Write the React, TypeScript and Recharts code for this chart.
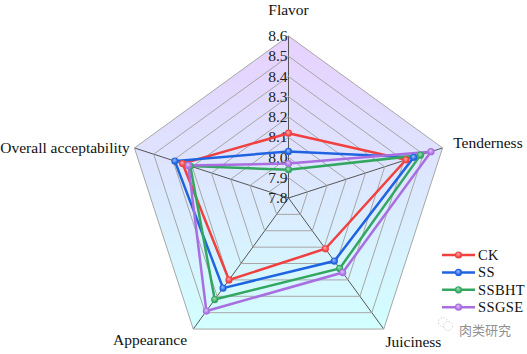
import React from "react";
import { RadarChart, Radar, PolarGrid, PolarAngleAxis, PolarRadiusAxis, Legend } from "recharts";

const categories = ["Flavor", "Tenderness", "Juiciness", "Appearance", "Overall acceptability"];
const CK = [8.12, 8.41, 8.11, 8.3, 8.35];
const SS = [8.03, 8.45, 8.185, 8.35, 8.39];
const SSBHT = [7.94, 8.485, 8.23, 8.42, 8.31];
const SSGSE = [7.97, 8.54, 8.255, 8.49, 8.32];
const frame = [8.6, 8.6, 8.6, 8.6, 8.6];
const radiusTicks = [7.8, 7.9, 8.0, 8.1, 8.2, 8.3, 8.4, 8.5, 8.6];
// Recharts widens an upper bound of 8.6 to 9.0, so the scale is set to 7.8-9.0 over a
// proportionally longer radius: 8.6 then falls exactly on the visible outer radius.
const radiusDomain = [7.8, 9.0];
const visibleRadius = 162;
const scaleRadius = 243;

const seriesList = [
  { key: "CK", color: "#f14040", light: "#ffb0b0", values: CK },
  { key: "SS", color: "#1f63e0", light: "#a0c4ff", values: SS },
  { key: "SSBHT", color: "#33a660", light: "#a5e5bd", values: SSBHT },
  { key: "SSGSE", color: "#a96ee0", light: "#e2c8ff", values: SSGSE },
];

const data = categories.map((c, i) => ({
  category: c,
  frame: frame[i],
  CK: CK[i],
  SS: SS[i],
  SSBHT: SSBHT[i],
  SSGSE: SSGSE[i],
}));

const FONT = '"Liberation Serif", "Times New Roman", serif';

const labelShift: Record<string, { dx: number; dy: number; anchor: string }> = {
  Flavor: { dx: 0, dy: -13, anchor: "middle" },
  Tenderness: { dx: 3, dy: 2.5, anchor: "start" },
  Juiciness: { dx: -3, dy: 11, anchor: "start" },
  Appearance: { dx: -1.5, dy: 9.5, anchor: "end" },
  "Overall acceptability": { dx: 3, dy: 7.5, anchor: "end" },
};

const AngleTick = (props: any) => {
  const { x, y, payload } = props;
  const s = labelShift[payload.value];
  return (
    <text x={x + s.dx} y={y + s.dy} textAnchor={s.anchor} fontFamily={FONT} fontSize={15.5} fill="#111">
      {payload.value}
    </text>
  );
};

const RadiusTick = (props: any) => {
  const { x, y, payload } = props;
  return (
    <text x={x - 1} y={y + 5} textAnchor="end" fontFamily={FONT} fontSize={15.5} fill="#222">
      {Number(payload.value).toFixed(1)}
    </text>
  );
};

const LegendBody = (props: any) => {
  const items = (props.payload || []) as any[];
  return (
    <svg width={87} height={70} style={{ display: "block", overflow: "visible" }}>
      {items.map((it, i) => {
        const y = 8 + i * 17.4;
        return (
          <g key={it.value}>
            <line x1={0} x2={33} y1={y} y2={y} stroke={it.color} strokeWidth={2.5} />
            <circle cx={16.5} cy={y} r={3.6} fill={`url(#ball${seriesList.findIndex((s) => s.key === it.value)})`} />
            <text x={36} y={y + 5} fontFamily={FONT} fontSize={14.5} fill="#111" letterSpacing={0.4}>
              {it.value}
            </text>
          </g>
        );
      })}
    </svg>
  );
};

const layer: React.CSSProperties = { position: "absolute", left: 0, top: 0 };
const chartProps = {
  width: 527,
  height: 354,
  cx: 288.5,
  cy: 198,
  data,
  margin: { top: 0, right: 0, bottom: 0, left: 0 },
};

export default function App() {
  return (
    <div style={{ position: "absolute", left: 0, top: 0, width: 527, height: 354, background: "#fff" }}>
      <div style={layer}>
        <RadarChart {...chartProps} outerRadius={scaleRadius}>
          <defs>
            <linearGradient id="panel" x1="0" y1="0" x2="0" y2="1">
              <stop offset="0%" stopColor="#e7d0ff" />
              <stop offset="100%" stopColor="#d2ffff" />
            </linearGradient>
          </defs>
          <PolarAngleAxis dataKey="category" tick={false} tickLine={false} axisLine={false} />
          <PolarRadiusAxis angle={90} domain={radiusDomain as any} allowDataOverflow tick={false} axisLine={false} tickLine={false} />
          <Radar dataKey="frame" legendType="none" stroke="none" fill="url(#panel)" fillOpacity={1} dot={false} isAnimationActive={false} />
        </RadarChart>
      </div>
      <div style={layer}>
        <RadarChart {...chartProps} outerRadius={visibleRadius}>
          <PolarGrid gridType="polygon" stroke="#555" strokeWidth={1} polarRadius={[]} />
          <PolarAngleAxis dataKey="category" tick={<AngleTick />} tickLine={false} axisLine={false} />
        </RadarChart>
      </div>
      <div style={layer}>
        <RadarChart {...chartProps} outerRadius={scaleRadius}>
          <PolarGrid gridType="polygon" stroke="#a6a6a6" strokeWidth={1} radialLines={false} />
          <PolarAngleAxis dataKey="category" tick={false} tickLine={false} axisLine={false} />
          <PolarRadiusAxis
            angle={90}
            domain={radiusDomain as any}
            allowDataOverflow
            ticks={radiusTicks as any}
            axisLine={false}
            tickLine={false}
            tick={<RadiusTick />}
          />
        </RadarChart>
      </div>
      <div style={layer}>
        <RadarChart {...chartProps} outerRadius={scaleRadius}>
          <defs>
            {seriesList.map((s, i) => (
              <radialGradient key={s.key} id={`ball${i}`} cx="50%" cy="50%" r="55%" fx="42%" fy="35%">
                <stop offset="0%" stopColor={s.light} />
                <stop offset="70%" stopColor={s.color} />
                <stop offset="100%" stopColor={s.color} />
              </radialGradient>
            ))}
          </defs>
          <PolarAngleAxis dataKey="category" tick={false} tickLine={false} axisLine={false} />
          <PolarRadiusAxis angle={90} domain={radiusDomain as any} allowDataOverflow tick={false} axisLine={false} tickLine={false} />
          {seriesList.map((s, i) => (
            <Radar
              key={s.key}
              name={s.key}
              dataKey={s.key}
              stroke={s.color}
              strokeWidth={2.5}
              fill="none"
              fillOpacity={0}
              dot={{ r: 3.6, fill: `url(#ball${i})`, stroke: "none", fillOpacity: 1 }}
              isAnimationActive={false}
            />
          ))}
          <Legend
            content={<LegendBody />}
            layout="vertical"
            wrapperStyle={{ left: 442, top: 247, width: 87, height: 70, bottom: "auto", right: "auto" }}
          />
        </RadarChart>
      </div>
      <svg width={16} height={16} style={{ position: "absolute", left: 438, top: 317 }}>
        <circle cx={5} cy={5} r={4.5} fill="none" stroke="#bbb" strokeWidth={0.7} strokeDasharray="1.5 1.5" />
        <circle cx={10} cy={9} r={4.5} fill="#fff" stroke="#bbb" strokeWidth={0.7} strokeDasharray="1.5 1.5" />
      </svg>
      <div
        style={{
          position: "absolute",
          left: 459,
          top: 322,
          fontFamily: '"Noto Sans CJK SC", sans-serif',
          fontSize: 13,
          color: "#909090",
          lineHeight: "16px",
          whiteSpace: "nowrap",
        }}
      >
        肉类研究
      </div>
    </div>
  );
}
